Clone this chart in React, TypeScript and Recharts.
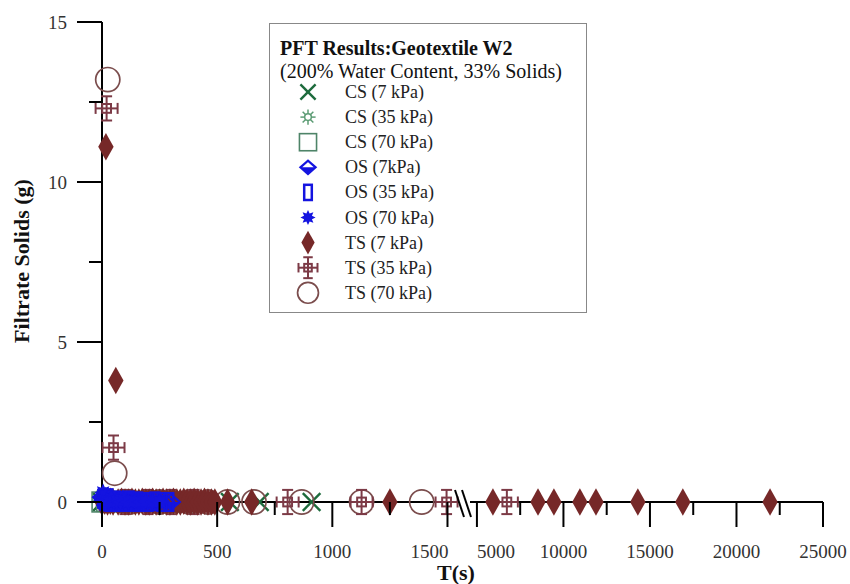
import React from 'react';
import { ScatterChart, Scatter, XAxis, YAxis, Legend } from 'recharts';

type Pt = { t: number; s: number };

// CS = green, OS = blue, TS = brown
const csLow: Pt[] = [
  { t: 0, s: 0 }, { t: 40, s: 0.02 }, { t: 90, s: 0 }, { t: 150, s: 0.02 }, { t: 220, s: 0 },
  { t: 300, s: 0 }, { t: 380, s: 0.02 }, { t: 460, s: 0 }, { t: 555, s: 0 }, { t: 685, s: 0 },
  { t: 910, s: 0 },
];
const csMid: Pt[] = [
  { t: 0, s: 0.05 }, { t: 30, s: 0.02 }, { t: 70, s: 0 }, { t: 120, s: 0.02 }, { t: 180, s: 0 },
];
const csHigh: Pt[] = [
  { t: 0, s: 0 }, { t: 20, s: 0.02 }, { t: 60, s: 0 }, { t: 120, s: 0 }, { t: 200, s: 0.02 },
  { t: 300, s: 0 }, { t: 400, s: 0 },
];
const osLow: Pt[] = [
  { t: 0, s: 0.15 }, { t: 6, s: 0.1 }, { t: 12, s: 0.05 }, { t: 20, s: 0.08 }, { t: 28, s: 0.03 },
  { t: 38, s: 0.02 }, { t: 50, s: 0.05 }, { t: 62, s: 0 }, { t: 75, s: 0.02 }, { t: 90, s: 0.1 },
  { t: 105, s: 0 }, { t: 120, s: 0.02 }, { t: 140, s: 0 }, { t: 160, s: 0.05 }, { t: 180, s: 0 },
  { t: 200, s: 0.02 }, { t: 225, s: 0 }, { t: 250, s: 0.02 }, { t: 275, s: 0 }, { t: 300, s: 0 },
];
const osMid: Pt[] = [
  { t: 3, s: 0.1 }, { t: 10, s: 0.05 }, { t: 18, s: 0.02 }, { t: 26, s: 0.12 }, { t: 35, s: 0 },
  { t: 45, s: 0.02 }, { t: 58, s: 0.05 }, { t: 70, s: 0 }, { t: 85, s: 0.02 }, { t: 100, s: 0 },
  { t: 118, s: 0.05 }, { t: 135, s: 0 }, { t: 155, s: 0.02 }, { t: 178, s: 0 }, { t: 200, s: 0 },
  { t: 230, s: 0.02 }, { t: 260, s: 0 }, { t: 290, s: 0 },
];
const osHigh: Pt[] = [
  { t: 0, s: 0.05 }, { t: 5, s: 0.3 }, { t: 9, s: 0.15 }, { t: 15, s: 0.2 }, { t: 22, s: 0.05 },
  { t: 30, s: 0.02 }, { t: 40, s: 0.1 }, { t: 52, s: 0 }, { t: 65, s: 0.02 }, { t: 80, s: 0 },
  { t: 95, s: 0.05 }, { t: 115, s: 0 }, { t: 140, s: 0.02 }, { t: 165, s: 0 }, { t: 190, s: 0.02 },
  { t: 220, s: 0 }, { t: 250, s: 0 },
];
const tsLow: Pt[] = [
  { t: 0, s: 0 }, { t: 12, s: 0.02 }, { t: 17, s: 11.1 }, { t: 24, s: 0 }, { t: 36, s: 0.02 },
  { t: 48, s: 0 }, { t: 60, s: 3.8 }, { t: 70, s: 0 }, { t: 85, s: 0.02 }, { t: 100, s: 0 },
  { t: 115, s: 0 }, { t: 130, s: 0.02 }, { t: 145, s: 0 }, { t: 160, s: 0 }, { t: 175, s: 0.02 },
  { t: 190, s: 0 }, { t: 205, s: 0 }, { t: 220, s: 0.02 }, { t: 235, s: 0 }, { t: 250, s: 0 },
  { t: 265, s: 0.02 }, { t: 280, s: 0 }, { t: 295, s: 0 }, { t: 310, s: 0.02 }, { t: 325, s: 0 },
  { t: 340, s: 0 }, { t: 355, s: 0.02 }, { t: 370, s: 0 }, { t: 385, s: 0 }, { t: 400, s: 0.02 },
  { t: 415, s: 0 }, { t: 430, s: 0 }, { t: 445, s: 0.02 }, { t: 460, s: 0 }, { t: 475, s: 0 },
  { t: 490, s: 0 }, { t: 545, s: 0 }, { t: 650, s: 0 }, { t: 1250, s: 0 },
  { t: 5925, s: 0 }, { t: 8530, s: 0 }, { t: 9450, s: 0 }, { t: 10950, s: 0 },
  { t: 11880, s: 0 }, { t: 14300, s: 0 }, { t: 16900, s: 0 }, { t: 21940, s: 0 },
];
const tsMid: Pt[] = [
  { t: 20, s: 12.3 }, { t: 50, s: 1.7 }, { t: 100, s: 0 }, { t: 200, s: 0 }, { t: 300, s: 0 },
  { t: 400, s: 0 }, { t: 806, s: 0 }, { t: 1127, s: 0 }, { t: 1496, s: 0 }, { t: 6730, s: 0 },
];
const tsHigh: Pt[] = [
  { t: 25, s: 13.2 }, { t: 55, s: 0.9 }, { t: 120, s: 0 }, { t: 250, s: 0 }, { t: 380, s: 0 },
  { t: 460, s: 0 }, { t: 545, s: 0 }, { t: 660, s: 0 }, { t: 867, s: 0 }, { t: 1127, s: 0 },
  { t: 1388, s: 0 },
];

const leftDomain = [0, 1550];
const rightDomain = [4600, 25000];
const leftTicks = [0, 250, 500, 750, 1000, 1250, 1500];
const rightTicks = [5000, 7500, 10000, 12500, 15000, 17500, 20000, 22500, 25000];
const yTicks = [0, 2.5, 5, 7.5, 10, 12.5, 15];
// labels either side of the axis break are pushed apart
const tickAnchor: Record<number, 'start' | 'end'> = { 1500: 'end', 5000: 'start' };

const FONT = '"Liberation Serif", "Times New Roman", serif';
const BLUE = '#1414e0';
const BROWN = '#762828';

type Kind = 'x' | 'sun' | 'square' | 'halfDiamond' | 'tallRect' | 'star' | 'diamond' | 'crossbar' | 'circle';

const series: { name: string; kind: Kind; data: Pt[] }[] = [
  { name: 'CS (7 kPa)', kind: 'x', data: csLow },
  { name: 'CS (35 kPa)', kind: 'sun', data: csMid },
  { name: 'CS (70 kPa)', kind: 'square', data: csHigh },
  { name: 'OS (7kPa)', kind: 'halfDiamond', data: osLow },
  { name: 'OS (35 kPa)', kind: 'tallRect', data: osMid },
  { name: 'OS (70 kPa)', kind: 'star', data: osHigh },
  { name: 'TS (7 kPa)', kind: 'diamond', data: tsLow },
  { name: 'TS (35 kPa)', kind: 'crossbar', data: tsMid },
  { name: 'TS (70 kPa)', kind: 'circle', data: tsHigh },
];
// paint order (indexes into series): green under, blue over brown
const drawOrder = [0, 2, 1, 8, 7, 6, 3, 4, 5];

const Marker = ({ kind, cx, cy, k = 1 }: { kind: Kind; cx: number; cy: number; k?: number }) => {
  if (cx == null || cy == null) return null;
  switch (kind) {
    case 'x':
      return (
        <g stroke="#1d6b3c" strokeWidth={2.4}>
          <line x1={cx - 8 * k} y1={cy - 8 * k} x2={cx + 8 * k} y2={cy + 8 * k} />
          <line x1={cx - 8 * k} y1={cy + 8 * k} x2={cx + 8 * k} y2={cy - 8 * k} />
        </g>
      );
    case 'sun': {
      const spokes = [0, 45, 90, 135, 180, 225, 270, 315];
      return (
        <g stroke="#5c9c74" strokeWidth={1.5} fill="none">
          <circle cx={cx} cy={cy} r={3.5 * k} />
          {spokes.map((a) => {
            const r = (a * Math.PI) / 180;
            return (
              <line key={a} x1={cx + Math.cos(r) * 3.5 * k} y1={cy + Math.sin(r) * 3.5 * k}
                x2={cx + Math.cos(r) * 8 * k} y2={cy + Math.sin(r) * 8 * k} />
            );
          })}
        </g>
      );
    }
    case 'square':
      return <rect x={cx - 9 * k} y={cy - 9 * k} width={18 * k} height={18 * k} fill="none" stroke="#4e8468" strokeWidth={1.6} />;
    case 'halfDiamond':
      return (
        <g>
          <path d={`M${cx - 8 * k},${cy} L${cx},${cy + 7 * k} L${cx + 8 * k},${cy} Z`} fill={BLUE} />
          <path d={`M${cx - 8 * k},${cy} L${cx},${cy - 7 * k} L${cx + 8 * k},${cy} L${cx},${cy + 7 * k} Z`} fill="none" stroke={BLUE} strokeWidth={2.2} />
        </g>
      );
    case 'tallRect':
      return <rect x={cx - 4 * k} y={cy - 8 * k} width={8 * k} height={16 * k} fill="none" stroke={BLUE} strokeWidth={2.5} />;
    case 'star': {
      const pts: string[] = [];
      for (let i = 0; i < 16; i++) {
        const a = (i * Math.PI) / 8;
        const r = (i % 2 === 0 ? 8 : 4.5) * k;
        pts.push(`${cx + Math.cos(a) * r},${cy + Math.sin(a) * r}`);
      }
      return <polygon points={pts.join(' ')} fill={BLUE} />;
    }
    case 'diamond':
      return (
        <polygon points={`${cx},${cy - 12.5 * k} ${cx + 7 * k},${cy} ${cx},${cy + 12.5 * k} ${cx - 7 * k},${cy}`} fill={BROWN} />
      );
    case 'crossbar':
      return (
        <g stroke="#7c3a46" strokeWidth={2} fill="none">
          <line x1={cx} y1={cy - 11 * k} x2={cx} y2={cy + 11 * k} />
          <line x1={cx - 5 * k} y1={cy - 11 * k} x2={cx + 5 * k} y2={cy - 11 * k} />
          <line x1={cx - 5 * k} y1={cy + 11 * k} x2={cx + 5 * k} y2={cy + 11 * k} />
          <line x1={cx - 10 * k} y1={cy} x2={cx + 10 * k} y2={cy} />
          <line x1={cx - 10 * k} y1={cy - 5 * k} x2={cx - 10 * k} y2={cy + 5 * k} />
          <line x1={cx + 10 * k} y1={cy - 5 * k} x2={cx + 10 * k} y2={cy + 5 * k} />
          <rect x={cx - 4 * k} y={cy - 4 * k} width={8 * k} height={8 * k} />
        </g>
      );
    case 'circle':
      return <circle cx={cx} cy={cy} r={11 * k} fill="none" stroke="#7b4d4d" strokeWidth={1.7} />;
  }
  return null;
};

const YTick = (props: any) => {
  const { x, y, payload } = props;
  const major = payload.value % 5 === 0;
  return (
    <g>
      <line x1={x - (major ? 25 : 13)} y1={y} x2={x} y2={y} stroke="#000" strokeWidth={2} />
      {major && (
        <text x={x - 35} y={y} textAnchor="end" dominantBaseline="central" fontFamily={FONT} fontSize={19} fill="#333">
          {payload.value}
        </text>
      )}
    </g>
  );
};

const makeXTick = (step: number) => (props: any) => {
  const { x, y, payload } = props;
  const major = payload.value % step === 0;
  const anchor = tickAnchor[payload.value] || 'middle';
  return (
    <g>
      <line x1={x} y1={y} x2={x} y2={y + (major ? 25 : 13)} stroke="#000" strokeWidth={2} />
      {major && (
        <text x={anchor === 'end' ? x + 1 : x} y={y + 56} textAnchor={anchor} fontFamily={FONT} fontSize={19} fill="#333">
          {payload.value}
        </text>
      )}
    </g>
  );
};

const LegendBox = () => (
  <div style={{ width: 318, height: 290, border: '1px solid #888', background: '#fff', boxSizing: 'border-box' }}>
    <svg width={316} height={288} style={{ display: 'block' }}>
      <text x={10} y={31} fontFamily={FONT} fontWeight="bold" fontSize={20} fill="#111">PFT Results:Geotextile W2</text>
      <text x={10} y={54} fontFamily={FONT} fontSize={20} fill="#111">(200% Water Content, 33% Solids)</text>
      {series.map((s, i) => {
        const cy = 68 + i * 25.1;
        return (
          <g key={s.name}>
            <Marker kind={s.kind} cx={38} cy={cy} k={0.95} />
            <text x={75} y={cy} dominantBaseline="central" fontFamily={FONT} fontSize={18} fill="#222">{s.name}</text>
          </g>
        );
      })}
    </svg>
  </div>
);

const inLeft = (d: Pt[]) => d.filter((p) => p.t <= leftDomain[1]);
const inRight = (d: Pt[]) => d.filter((p) => p.t >= rightDomain[0]);

export default function App() {
  return (
    <div style={{ position: 'absolute', left: 0, top: 0, width: 850, height: 584, background: '#fff' }}>
      <div style={{ position: 'absolute', left: 0, top: 0 }}>
        <ScatterChart width={850} height={584} margin={{ top: 22, right: 391, bottom: 22, left: 0 }}>
          <XAxis
            type="number"
            dataKey="t"
            domain={leftDomain}
            ticks={leftTicks}
            interval={0}
            height={60}
            tickSize={0}
            tickMargin={0}
            tickLine={false}
            tick={makeXTick(500)}
            axisLine={{ stroke: '#000', strokeWidth: 2 }}
            label={() => (
              <text x={456} y={580} textAnchor="middle" fontFamily={FONT} fontWeight="bold" fontSize={22} fill="#111">T(s)</text>
            )}
          />
          <YAxis
            type="number"
            dataKey="s"
            domain={[0, 15]}
            ticks={yTicks}
            interval={0}
            width={102}
            tickSize={0}
            tickMargin={0}
            tickLine={false}
            tick={YTick}
            axisLine={{ stroke: '#000', strokeWidth: 2 }}
            label={() => (
              <text transform="translate(21,261) rotate(-90)" textAnchor="middle" dominantBaseline="central"
                fontFamily={FONT} fontWeight="bold" fontSize={22} fill="#111">Filtrate Solids (g)</text>
            )}
          />
          {drawOrder.map((i) => {
            const s = series[i];
            return (
              <Scatter key={s.name} name={s.name} data={inLeft(s.data)} isAnimationActive={false}
                shape={(p: any) => <Marker kind={s.kind} cx={p.cx} cy={p.cy} k={1.1} />} />
            );
          })}
          <Legend
            verticalAlign="middle"
            align="center"
            content={() => <LegendBox />}
            wrapperStyle={{ left: 269, top: 23, width: 318, height: 290 }}
          />
        </ScatterChart>
      </div>
      <div style={{ position: 'absolute', left: 0, top: 0 }}>
        <ScatterChart width={850} height={584} margin={{ top: 22, right: 27, bottom: 22, left: 470 }}>
          <XAxis
            type="number"
            dataKey="t"
            domain={rightDomain}
            ticks={rightTicks}
            interval={0}
            height={60}
            tickSize={0}
            tickMargin={0}
            tickLine={false}
            tick={makeXTick(5000)}
            axisLine={{ stroke: '#000', strokeWidth: 2 }}
          />
          <YAxis type="number" dataKey="s" domain={[0, 15]} hide />
          {drawOrder.map((i) => {
            const s = series[i];
            return (
              <Scatter key={s.name} name={s.name} data={inRight(s.data)} isAnimationActive={false}
                shape={(p: any) => <Marker kind={s.kind} cx={p.cx} cy={p.cy} k={1.1} />} />
            );
          })}
        </ScatterChart>
      </div>
      <svg width={850} height={584} style={{ position: 'absolute', left: 0, top: 0, pointerEvents: 'none' }}>
        <g stroke="#000" strokeWidth={2}>
          <line x1={455} y1={490} x2={464} y2={517} />
          <line x1={462} y1={490} x2={471} y2={517} />
        </g>
      </svg>
    </div>
  );
}
